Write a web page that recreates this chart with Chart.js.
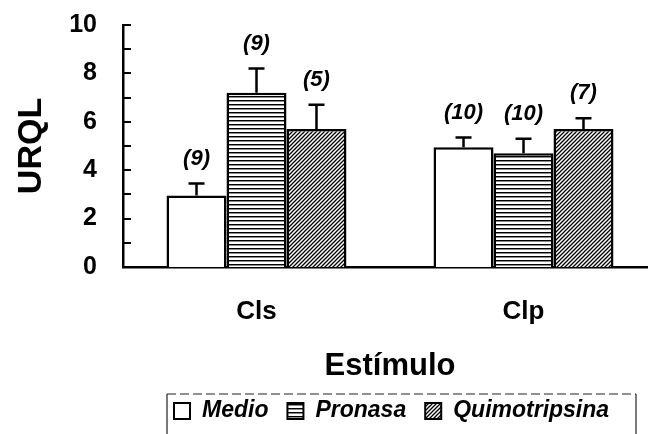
<!DOCTYPE html>
<html>
<head>
<meta charset="utf-8">
<script src="https://cdn.jsdelivr.net/npm/chart.js@4.4.1/dist/chart.umd.min.js"></script>
<style>
  html, body { margin: 0; padding: 0; background: #fff; overflow: hidden; }
  #wrap { width: 660px; height: 434px; }
</style>
</head>
<body>
<div id="wrap"><canvas id="c" width="660" height="434"></canvas></div>
<script>
// Categories and series
const categories = ['Cls', 'Clp'];
const seriesNames = ['Medio', 'Pronasa', 'Quimotripsina'];

// Mean URQL per stimulus
const medio = [2.95, 4.95];
const pronasa = [7.2, 4.7];
const quimotripsina = [5.7, 5.7];

// Upper error (SEM)
const medioErr = [0.5, 0.4];
const pronasaErr = [1.0, 0.6];
const quimotripsinaErr = [1.0, 0.45];

// Sample sizes shown above each bar
const medioN = ['(9)', '(10)'];
const pronasaN = ['(9)', '(10)'];
const quimotripsinaN = ['(5)', '(7)'];

// Y axis tick labels
const yTicks = [0, 2, 4, 6, 8, 10];

const FONT = '"Liberation Sans", Arial, Helvetica, sans-serif';
Chart.defaults.font.family = FONT;
Chart.defaults.color = '#000';

const canvas = document.getElementById('c');
const ctx = canvas.getContext('2d');

// Fill patterns
function horizontalLines() {
  const t = document.createElement('canvas');
  t.width = 4; t.height = 4;
  const g = t.getContext('2d');
  g.fillStyle = '#fff'; g.fillRect(0, 0, 4, 4);
  g.fillStyle = '#000'; g.fillRect(0, 0, 4, 1);
  g.fillStyle = 'rgba(0,0,0,0.45)'; g.fillRect(0, 1, 4, 1);
  return ctx.createPattern(t, 'repeat');
}
function diagonalLines() {
  const t = document.createElement('canvas');
  t.width = 4; t.height = 4;
  const g = t.getContext('2d');
  g.fillStyle = '#fff'; g.fillRect(0, 0, 4, 4);
  g.strokeStyle = '#000'; g.lineWidth = 1.3;
  g.beginPath();
  g.moveTo(0, 4); g.lineTo(4, 0);
  g.moveTo(-1, 1); g.lineTo(1, -1);
  g.moveTo(3, 5); g.lineTo(5, 3);
  g.stroke();
  return ctx.createPattern(t, 'repeat');
}

// Error bars, n labels and inward y ticks
const annotate = {
  id: 'annotate',
  afterDatasetsDraw(chart) {
    const c = chart.ctx;
    const y = chart.scales.y;
    c.save();
    c.strokeStyle = '#000';
    c.lineWidth = 2.5;
    c.lineCap = 'butt';
    chart.data.datasets.forEach((ds, di) => {
      const meta = chart.getDatasetMeta(di);
      meta.data.forEach((bar, i) => {
        const top = y.getPixelForValue(ds.data[i] + ds.err[i]);
        c.beginPath();
        c.moveTo(bar.x, bar.y);
        c.lineTo(bar.x, top);
        c.moveTo(bar.x - 8, top);
        c.lineTo(bar.x + 8, top);
        c.stroke();
        c.fillStyle = '#000';
        c.font = 'italic bold 22px ' + FONT;
        c.textAlign = 'center';
        c.textBaseline = 'middle';
        c.fillText(ds.n[i], bar.x, top - 25);
      });
    });
    // inward tick marks at every unit
    const a = chart.chartArea;
    c.lineWidth = 2;
    for (let v = 1; v <= 10; v++) {
      const py = Math.round(y.getPixelForValue(v));
      c.beginPath();
      c.moveTo(a.left, py);
      c.lineTo(a.left + 8, py);
      c.stroke();
    }
    c.restore();
  }
};

// Legend box under the axis title
const legendBox = {
  id: 'legendBox',
  afterDraw(chart) {
    const c = chart.ctx;
    c.save();
    const left = 167, right = 636, top = 394, bottom = 440;
    c.strokeStyle = '#222';
    c.lineWidth = 1.2;
    c.setLineDash([9, 4]);
    c.beginPath(); c.moveTo(left, top); c.lineTo(right, top); c.stroke();
    c.setLineDash([]);
    c.beginPath();
    c.moveTo(left, top); c.lineTo(left, bottom);
    c.moveTo(right, top); c.lineTo(right, bottom);
    c.stroke();

    c.font = 'italic bold 23px ' + FONT;
    c.textBaseline = 'middle';
    c.textAlign = 'left';
    const cy = 411;
    let x = 174;
    chart.data.datasets.forEach((ds) => {
      const s = 16;
      c.fillStyle = ds.backgroundColor;
      c.fillRect(x, cy - s / 2, s, s);
      c.strokeStyle = '#000';
      c.lineWidth = 2;
      c.strokeRect(x, cy - s / 2, s, s);
      x += s + 12;
      c.fillStyle = '#000';
      c.fillText(ds.label, x, cy);
      x += c.measureText(ds.label).width + 19;
    });
    c.restore();
  }
};

const common = { borderColor: '#000', borderWidth: 2.5, categoryPercentage: 0.674, barPercentage: 1.0 };

new Chart(ctx, {
  type: 'bar',
  data: {
    labels: categories,
    datasets: [
      Object.assign({ label: seriesNames[0], data: medio, err: medioErr, n: medioN, backgroundColor: '#fff' }, common),
      Object.assign({ label: seriesNames[1], data: pronasa, err: pronasaErr, n: pronasaN, backgroundColor: horizontalLines() }, common),
      Object.assign({ label: seriesNames[2], data: quimotripsina, err: quimotripsinaErr, n: quimotripsinaN, backgroundColor: diagonalLines() }, common)
    ]
  },
  options: {
    responsive: false,
    animation: false,
    devicePixelRatio: 1,
    layout: { padding: { left: 0, right: 3, top: 25, bottom: 0 } },
    plugins: { legend: { display: false }, tooltip: { enabled: false } },
    scales: {
      x: {
        grid: { display: false, drawTicks: false, tickLength: 0 },
        border: { display: true, color: '#000', width: 2.5 },
        ticks: { font: { size: 26, weight: 'bold' }, color: '#000', padding: 29 },
        title: { display: true, text: 'Estímulo', font: { size: 31, weight: 'bold' }, color: '#000', padding: { top: 0, bottom: 49 } },
        afterFit(s) { s.height = 167; s.paddingLeft = 0; s.paddingRight = 0; }
      },
      y: {
        min: 0, max: 10,
        afterBuildTicks(s) { s.ticks = yTicks.map(v => ({ value: v })); },
        grid: { display: false, drawTicks: false, tickLength: 0 },
        border: { display: true, color: '#000', width: 2.5 },
        ticks: { font: { size: 25, weight: 'bold' }, color: '#000', padding: 26 },
        title: { display: true, text: 'URQL', font: { size: 34, weight: 'bold' }, color: '#000', padding: { top: 11, bottom: 0 } },
        afterFit(s) { s.width = 123; s.paddingTop = 0; s.paddingBottom = 0; }
      }
    }
  },
  plugins: [annotate, legendBox]
});
</script>
</body>
</html>
